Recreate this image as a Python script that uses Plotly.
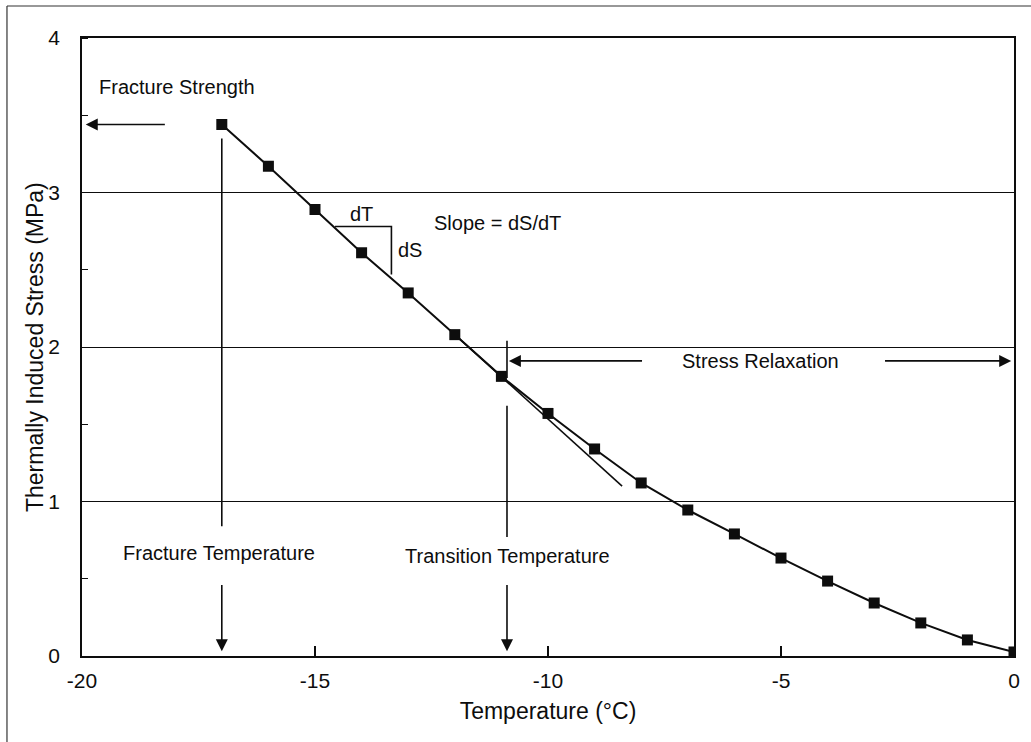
import plotly.graph_objects as go

# Measured thermally induced stress vs. temperature
temperature = [-17, -16, -15, -14, -13, -12, -11, -10, -9, -8, -7, -6, -5, -4, -3, -2, -1, 0]
stress = [3.44, 3.17, 2.89, 2.61, 2.35, 2.08, 1.81, 1.57, 1.34, 1.12, 0.945, 0.79,
          0.634, 0.485, 0.343, 0.214, 0.104, 0.026]

# Tangent to the linear (elastic) part of the curve
tangent_x = [-12.0, -8.41]
tangent_y = [2.08, 1.10]

# Slope triangle (dT horizontal leg, dS vertical leg)
tri_x = [-14.57, -13.36, -13.36]
tri_y = [2.78, 2.78, 2.47]

fracture_T = -17.0
transition_T = -10.88
fracture_S = 3.44
relax_y = 1.91

x_ticks = [-20, -15, -10, -5, 0]
y_ticks = [0, 1, 2, 3, 4]

INK = "#0d0d0d"
FONT = "Liberation Sans, Arial, sans-serif"

fig = go.Figure()

fig.add_trace(go.Scatter(
    x=tangent_x, y=tangent_y, mode="lines",
    line=dict(color=INK, width=1.6), showlegend=False, hoverinfo="skip"))

fig.add_trace(go.Scatter(
    x=tri_x, y=tri_y, mode="lines",
    line=dict(color=INK, width=1.6), showlegend=False, hoverinfo="skip"))

fig.add_trace(go.Scatter(
    x=temperature, y=stress, mode="lines+markers",
    line=dict(color=INK, width=2),
    marker=dict(symbol="square", size=11, color=INK),
    showlegend=False))

# Vertical guide lines from the fracture and transition points
guides = [
    (fracture_T, 3.35, 0.84),
    (transition_T, 1.62, 0.77),
    (transition_T, 2.04, 1.80),
]
for gx, gy0, gy1 in guides:
    fig.add_shape(type="line", x0=gx, x1=gx, y0=gy0, y1=gy1,
                  xref="x", yref="y", line=dict(color=INK, width=1.6))

# Arrows: (head x, head y, tail x, tail y)
arrows = [
    (-19.92, fracture_S, -18.19, fracture_S),
    (fracture_T, 0.03, fracture_T, 0.47),
    (transition_T, 0.03, transition_T, 0.47),
    (-10.84, relax_y, -7.95, relax_y),
    (-0.06, relax_y, -2.80, relax_y),
]
for hx, hy, tx, ty in arrows:
    fig.add_annotation(x=hx, y=hy, ax=tx, ay=ty, xref="x", yref="y",
                       axref="x", ayref="y", text="", showarrow=True,
                       arrowhead=2, arrowsize=1.5, arrowwidth=1.6,
                       arrowcolor=INK)

labels = [
    ("Fracture Strength", -19.68, 3.68, "left"),
    ("Fracture Temperature", -17.05, 0.667, "center"),
    ("Transition Temperature", -10.86, 0.647, "center"),
    ("Stress Relaxation", -5.45, relax_y, "center"),
    ("dT", -14.0, 2.86, "center"),
    ("dS", -12.96, 2.63, "center"),
    ("Slope = dS/dT", -12.48, 2.80, "left"),
]
for txt, lx, ly, anchor in labels:
    fig.add_annotation(x=lx, y=ly, xref="x", yref="y", text=txt,
                       showarrow=False, xanchor=anchor, yanchor="middle",
                       font=dict(family=FONT, size=20, color=INK))

# Y-axis title, placed in paper coordinates
fig.add_annotation(x=-0.0504, y=0.5, xref="paper", yref="paper",
                   text="Thermally Induced Stress (MPa)", textangle=-90,
                   showarrow=False, xanchor="center", yanchor="middle",
                   font=dict(family=FONT, size=23, color=INK))

# Outer frame (left and top edges)
fig.add_shape(type="line", xref="paper", yref="paper",
              x0=-0.0805, x1=-0.0805, y0=-0.2, y1=1.0518,
              line=dict(color="#333333", width=1.2))
fig.add_shape(type="line", xref="paper", yref="paper",
              x0=-0.0805, x1=1.1, y0=1.0518, y1=1.0518,
              line=dict(color="#333333", width=1.2))

fig.update_xaxes(
    range=[-20, 0], tickvals=x_ticks, ticktext=[str(v) for v in x_ticks],
    ticks="inside", ticklen=10, tickwidth=1.5, tickcolor=INK,
    showline=True, linecolor=INK, linewidth=1.6, mirror=True,
    showgrid=False, zeroline=False, ticklabelstandoff=5,
    tickfont=dict(family=FONT, size=21, color=INK),
    title=dict(text="Temperature (°C)", standoff=12,
               font=dict(family=FONT, size=23, color=INK)))

fig.update_yaxes(
    range=[0, 4], tickvals=y_ticks, ticktext=[str(v) for v in y_ticks],
    ticks="", showline=True, linecolor=INK, linewidth=1.6, mirror=True,
    showgrid=True, gridcolor=INK, gridwidth=1.3, zeroline=False,
    minor=dict(dtick=0.5, tick0=0.5, ticks="inside", ticklen=6,
               tickcolor=INK, tickwidth=1.2, showgrid=False),
    ticklabelstandoff=16,
    tickfont=dict(family=FONT, size=21, color=INK))

fig.update_layout(
    width=1031, height=742,
    margin=dict(l=82, r=17, t=38, b=86),
    plot_bgcolor="white", paper_bgcolor="white",
)

fig.write_html("out.html")
